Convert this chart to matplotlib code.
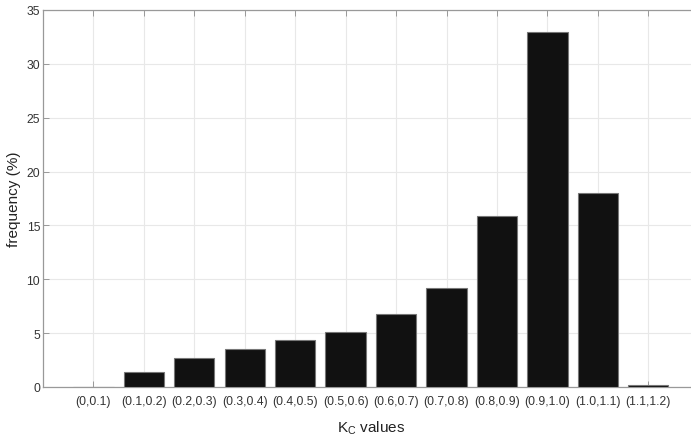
import matplotlib
matplotlib.use("Agg")
import matplotlib.pyplot as plt
import numpy as np

# Distribution of K_C values per interval
categories = ["(0,0.1)", "(0.1,0.2)", "(0.2,0.3)", "(0.3,0.4)", "(0.4,0.5)", "(0.5,0.6)",
              "(0.6,0.7)", "(0.7,0.8)", "(0.8,0.9)", "(0.9,1.0)", "(1.0,1.1)", "(1.1,1.2)"]
frequency = [0.03, 1.35, 2.65, 3.5, 4.4, 5.15, 6.8, 9.2, 15.85, 33.0, 18.05, 0.2]
y_ticks = [0, 5, 10, 15, 20, 25, 30, 35]

plt.rcParams["font.family"] = ["Liberation Sans", "DejaVu Sans"]

fig = plt.figure(figsize=(6.91, 4.39), dpi=100)
ax = fig.add_axes([0.0622, 0.1162, 0.949, 0.8588])

x = np.arange(1, len(categories) + 1)
ax.bar(x, frequency, width=0.8, color="#111111", edgecolor="#777777", linewidth=0.8, zorder=3)

ax.set_xlim(0, len(categories) + 1)
ax.set_ylim(0, 35)
ax.set_xticks(x)
ax.set_xticklabels(categories)
ax.set_yticks(y_ticks)

ax.grid(True, color="#e8e8e8", linewidth=0.8, zorder=0)
for side in ["top", "bottom", "left"]:
    ax.spines[side].set_color("#999999")
    ax.spines[side].set_linewidth(0.9)
ax.spines["right"].set_visible(False)

ax.tick_params(axis="both", direction="in", length=4, width=0.7, color="#999999",
               labelsize=8.7, labelcolor="#333333", top=True, right=False)
ax.tick_params(axis="x", pad=6)
ax.tick_params(axis="y", pad=2)

ax.set_ylabel("frequency (%)", fontsize=11, color="#222222", labelpad=4)
ax.set_xlabel(r"K$_\mathregular{C}$ values", fontsize=11, color="#222222", labelpad=8)

fig.savefig("out.png", dpi=100)
